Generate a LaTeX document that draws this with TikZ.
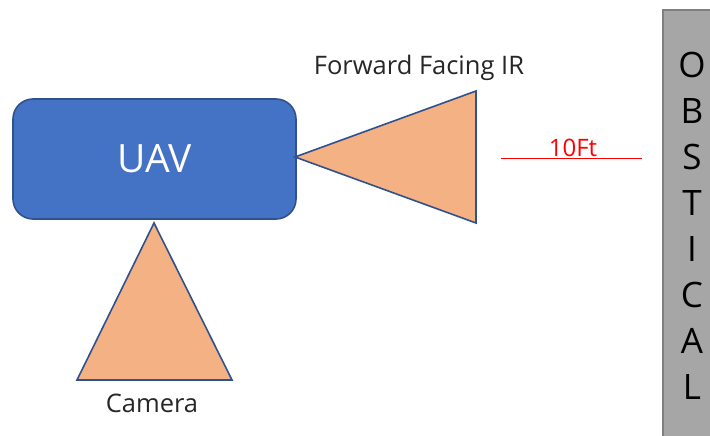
\documentclass[tikz,border=0pt]{standalone}
\usepackage{fontspec}
\setmainfont{Open Sans}
\usepackage{tikz}
\usetikzlibrary{positioning}
\usepackage{xcolor}
\definecolor{uavblue}{RGB}{68,114,196}
\definecolor{uavedge}{RGB}{47,82,143}
\definecolor{sensorfill}{RGB}{244,177,131}
\definecolor{obsgray}{RGB}{166,166,166}
\definecolor{obsedge}{RGB}{127,127,127}
\definecolor{distred}{RGB}{255,0,0}
\tikzstyle{uavbox} = [rectangle, rounded corners=20pt, minimum width=283pt, minimum height=120pt, text centered, draw=uavedge, fill=uavblue, line width=1.6pt, text=white, font=\fontsize{39}{44}\selectfont]
\tikzstyle{sensor} = [draw=uavedge, fill=sensorfill, line width=1.6pt, line join=miter]
\tikzstyle{label} = [font=\fontsize{25.5}{30}\selectfont, text=black!85]

\begin{document}
\begin{tikzpicture}[x=1pt, y=-1pt]
\useasboundingbox (0,0) rectangle (710,436);
% Obstacle
\draw[fill=obsgray, draw=obsedge, line width=1.6pt] (663,10) rectangle (715,445);
\node[font=\fontsize{35}{46}\selectfont, align=center, text=black] (obst) at (692,226) {O\\B\\S\\T\\I\\C\\A\\L};
% UAV
\node[uavbox] (uav) at (154.5,159) {UAV};
% Forward facing IR
\coordinate (irtip) at (295,157);
\coordinate (irtop) at (476,91);
\coordinate (irbot) at (476,223);
\draw[sensor] (irtip) -- (irtop) -- (irbot) -- cycle;
\node[label] (irlabel) at (419,68) {Forward Facing IR};
% Camera
\coordinate (camtip) at (154,223);
\coordinate (camleft) at (77,380);
\coordinate (camright) at (232,380);
\draw[sensor] (camtip) -- (camleft) -- (camright) -- cycle;
\node[label] (camlabel) at (152,403) {Camera};
% Distance
\coordinate (dstart) at (501,158);
\coordinate (dend) at (642,158);
\draw[distred, line width=1pt] (dstart) -- (dend);
\node[font=\fontsize{24}{28}\selectfont, text=distred, above=-2pt of dstart, xshift=72pt] (dist) {10Ft};
\end{tikzpicture}
\end{document}
